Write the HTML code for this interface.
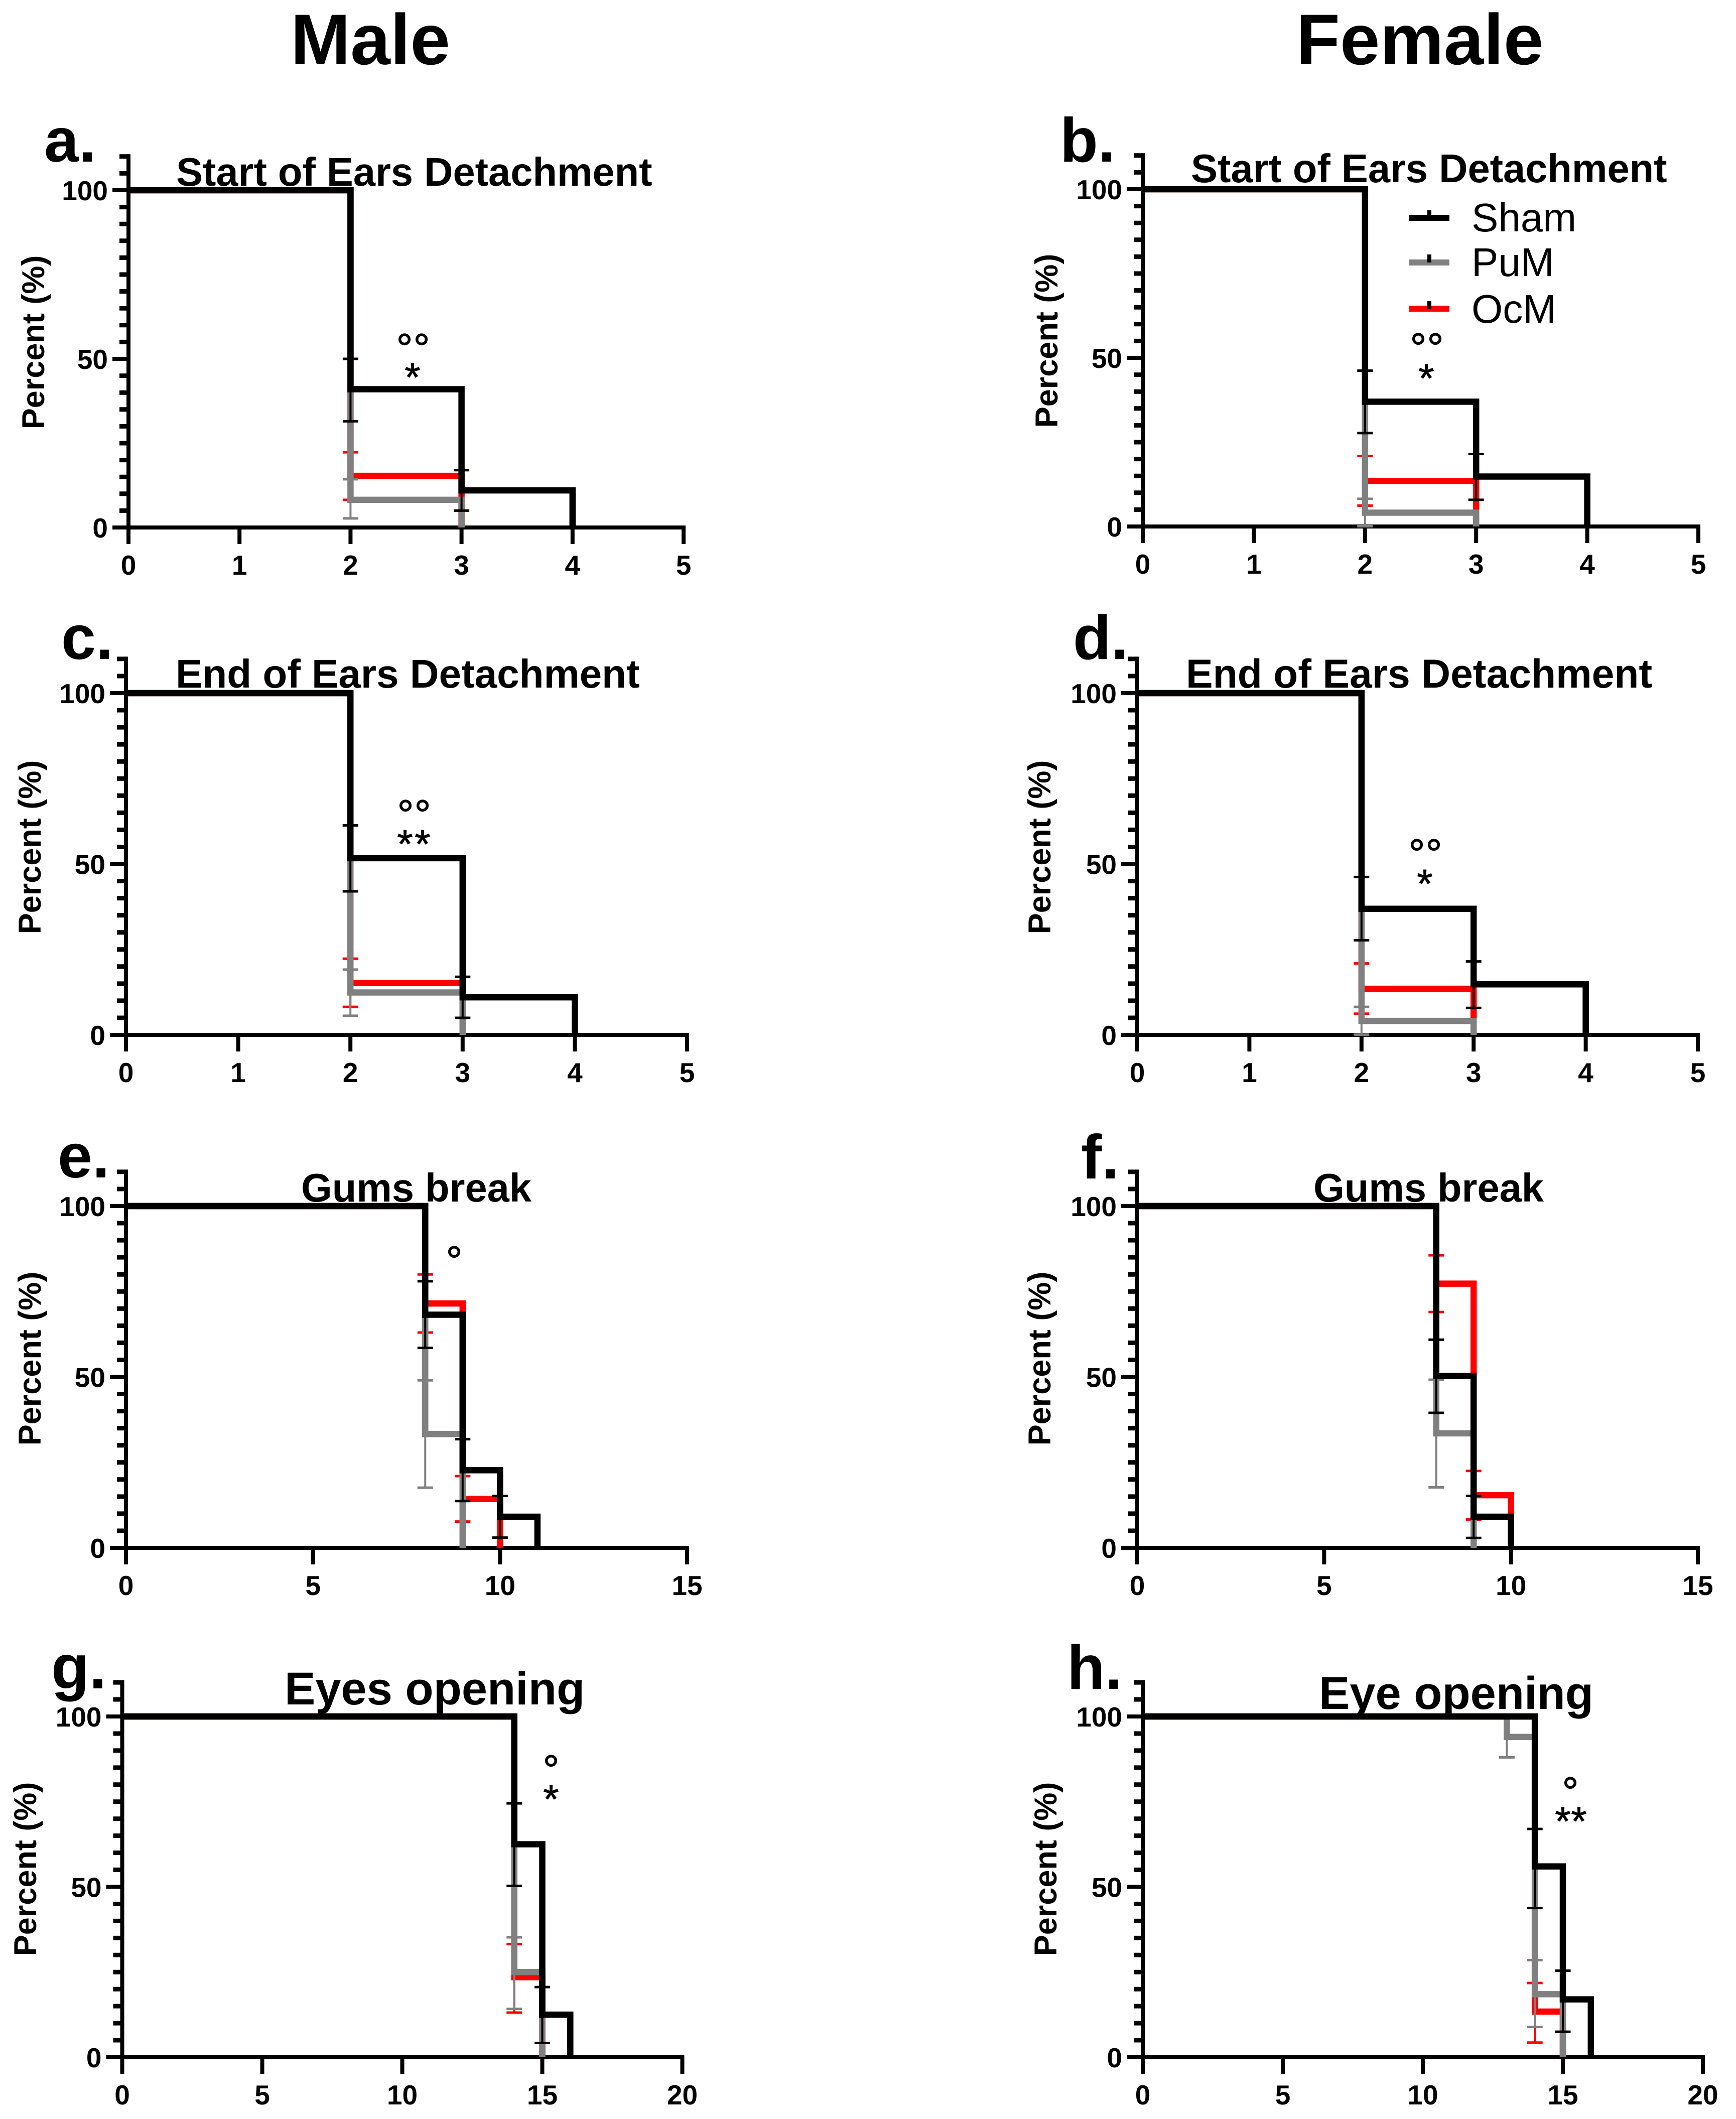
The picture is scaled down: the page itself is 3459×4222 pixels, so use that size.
<!DOCTYPE html>
<html lang="en">
<head>
<meta charset="utf-8">
<title>Developmental milestones: Male and Female</title>
<style>
html,body{margin:0;padding:0;background:#fff;}
svg{display:block;}
text{font-family:"Liberation Sans",Arial,sans-serif;fill:#000;}
.b{font-weight:bold;}
.head{font-size:143px;font-weight:bold;text-anchor:middle;}
.letter{font-size:124px;font-weight:bold;}
.title{font-size:79.4px;font-weight:bold;}
.title2{font-size:92px;font-weight:bold;}
.ylab{font-size:63px;font-weight:bold;text-anchor:middle;}
.deg{font-size:82px;text-anchor:middle;stroke:#000;stroke-width:1.2px;}
.star{font-size:80px;text-anchor:middle;stroke:#000;stroke-width:1px;}
.leg{font-size:80px;}
.tick{font-size:55px;font-weight:bold;}
</style>
</head>
<body>
<svg id="fig" width="3459" height="4222" viewBox="0 0 3459 4222">
  <rect width="3459" height="4222" fill="#fff"/>

  <text class="head" x="738" y="128">Male</text>
  <text class="head" x="2829" y="128">Female</text>

  <text class="letter" x="88" y="322">a.</text>
  <text class="letter" x="2112" y="322">b.</text>
  <text class="letter" x="122" y="1313">c.</text>
  <text class="letter" x="2138" y="1313">d.</text>
  <text class="letter" x="115" y="2346">e.</text>
  <text class="letter" x="2154" y="2348">f.</text>
  <text class="letter" x="102" y="3364">g.</text>
  <text class="letter" x="2126" y="3365">h.</text>

  <text class="title" x="351" y="370">Start of Ears Detachment</text>
  <text class="title" x="2373" y="363">Start of Ears Detachment</text>
  <text class="title" x="350" y="1370" style="font-size:80px">End of Ears Detachment</text>
  <text class="title" x="2363" y="1370" style="font-size:80.4px">End of Ears Detachment</text>
  <text class="title" x="600" y="2394">Gums break</text>
  <text class="title" x="2617" y="2394">Gums break</text>
  <text class="title2" x="567" y="3396">Eyes opening</text>
  <text class="title2" x="2628" y="3405">Eye opening</text>

  <text class="ylab" transform="translate(88 682) rotate(-90)">Percent (%)</text>
  <text class="ylab" transform="translate(2107 679) rotate(-90)">Percent (%)</text>
  <text class="ylab" transform="translate(81 1688) rotate(-90)">Percent (%)</text>
  <text class="ylab" transform="translate(2093 1688) rotate(-90)">Percent (%)</text>
  <text class="ylab" transform="translate(81 2707) rotate(-90)">Percent (%)</text>
  <text class="ylab" transform="translate(2093 2707) rotate(-90)">Percent (%)</text>
  <text class="ylab" transform="translate(72 3724) rotate(-90)">Percent (%)</text>
  <text class="ylab" transform="translate(2105 3724) rotate(-90)">Percent (%)</text>

  <!-- significance marks -->
  <text class="deg" x="806" y="722">°</text>
  <text class="deg" x="840" y="722">°</text>
  <text class="star" x="822" y="779">*</text>

  <text class="deg" x="2826" y="721">°</text>
  <text class="deg" x="2860" y="721">°</text>
  <text class="star" x="2842" y="781">*</text>

  <text class="deg" x="808" y="1651">°</text>
  <text class="deg" x="842" y="1651">°</text>
  <text class="star" x="807" y="1709">*</text>
  <text class="star" x="842" y="1709">*</text>

  <text class="deg" x="2823" y="1729">°</text>
  <text class="deg" x="2857" y="1729">°</text>
  <text class="star" x="2839" y="1788">*</text>

  <text class="deg" x="905" y="2540">°</text>

  <text class="deg" x="1098" y="3554">°</text>
  <text class="star" x="1098" y="3612">*</text>

  <text class="deg" x="3129" y="3598">°</text>
  <text class="star" x="3114" y="3656">*</text>
  <text class="star" x="3146" y="3656">*</text>

  <g id="plots"></g>

  <!-- legend -->
  <g>
    <g>
      <rect x="2808" y="428" width="80" height="12" fill="#000"/>
      <rect x="2844" y="419" width="8" height="15" fill="#000"/>
      <text class="leg" x="2932" y="461">Sham</text>
    </g>
    <g>
      <rect x="2808" y="517" width="80" height="12" fill="#808080"/>
      <rect x="2844" y="507" width="8" height="16" fill="#000"/>
      <text class="leg" x="2932" y="550">PuM</text>
    </g>
    <g>
      <rect x="2808" y="609" width="80" height="12" fill="#ff0000"/>
      <rect x="2844" y="600" width="8" height="16" fill="#000"/>
      <text class="leg" x="2932" y="643">OcM</text>
    </g>
  </g>
</svg>

<script>
// ---- tick values ----
const xTicksEars = [0, 1, 2, 3, 4, 5];
const xTicksGums = [0, 5, 10, 15];
const xTicksEyes = [0, 5, 10, 15, 20];
const yTicksMajor = [0, 50, 100];
const yTicksMinor = [5, 10, 15, 20, 25, 30, 35, 40, 45, 55, 60, 65, 70, 75, 80, 85, 90, 95, 105, 110];

// ---- panel a: start of ears detachment, male ----
const aShamTimes = [0, 2, 3, 4];
const aShamPercent = [100, 41, 11, 0];
const aShamUpper = [50, 17];
const aShamLower = [31.5, 5];
const aPumTimes = [0, 2, 3];
const aPumPercent = [100, 8.2, 0];
const aPumUpper = [14.3];
const aPumLower = [2.7];
const aOcmTimes = [0, 2, 3];
const aOcmPercent = [100, 15.3, 0];
const aOcmUpper = [22.3];
const aOcmLower = [8.2];

// ---- panel b: start of ears detachment, female ----
const bShamTimes = [0, 2, 3, 4];
const bShamPercent = [100, 37, 14.8, 0];
const bShamUpper = [46.2, 21.5];
const bShamLower = [27.7, 7.9];
const bPumTimes = [0, 2, 3];
const bPumPercent = [100, 4.1, 0];
const bPumUpper = [8.2];
const bPumLower = [0.1];
const bOcmTimes = [0, 2, 3];
const bOcmPercent = [100, 13.5, 0];
const bOcmUpper = [20.9];
const bOcmLower = [6.2];

// ---- panel c: end of ears detachment, male ----
const cShamTimes = [0, 2, 3, 4];
const cShamPercent = [100, 51.7, 11, 0];
const cShamUpper = [61.3, 17];
const cShamLower = [42, 5];
const cPumTimes = [0, 2, 3];
const cPumPercent = [100, 12.4, 0];
const cPumUpper = [19.1];
const cPumLower = [5.6];
const cOcmTimes = [0, 2, 3];
const cOcmPercent = [100, 15.2, 0];
const cOcmUpper = [22.3];
const cOcmLower = [8.2];

// ---- panel d: end of ears detachment, female ----
const dShamTimes = [0, 2, 3, 4];
const dShamPercent = [100, 36.9, 14.8, 0];
const dShamUpper = [46.2, 21.5];
const dShamLower = [27.7, 7.9];
const dPumTimes = [0, 2, 3];
const dPumPercent = [100, 4.1, 0];
const dPumUpper = [8.2];
const dPumLower = [0.1];
const dOcmTimes = [0, 2, 3];
const dOcmPercent = [100, 13.5, 0];
const dOcmUpper = [20.9];
const dOcmLower = [6.2];

// ---- panel e: gums break, male ----
const eShamTimes = [0, 8, 9, 10, 11];
const eShamPercent = [100, 68.2, 22.7, 9.1, 0];
const eShamUpper = [78, 31.8, 15.2];
const eShamLower = [58.5, 13.7, 3];
const ePumTimes = [0, 8, 9];
const ePumPercent = [100, 33.3, 0];
const ePumUpper = [49];
const ePumLower = [17.6];
const eOcmTimes = [0, 8, 9, 10];
const eOcmPercent = [100, 71.5, 14.3, 0];
const eOcmUpper = [80, 21];
const eOcmLower = [63, 7.7];

// ---- panel f: gums break, female ----
const fShamTimes = [0, 8, 9, 10];
const fShamPercent = [100, 50.3, 9.1, 0];
const fShamUpper = [60.9, 15.2];
const fShamLower = [39.5, 2.9];
const fPumTimes = [0, 8, 9];
const fPumPercent = [100, 33.5, 0];
const fPumUpper = [49.2];
const fPumLower = [17.7];
const fOcmTimes = [0, 8, 9, 10];
const fOcmPercent = [100, 77.3, 15.4, 0];
const fOcmUpper = [85.6, 22.5];
const fOcmLower = [69, 8.3];

// ---- panel g: eyes opening, male ----
const gShamTimes = [0, 14, 15, 16];
const gShamPercent = [100, 62.5, 12.5, 0];
const gShamUpper = [74.5, 20.6];
const gShamLower = [50.3, 4.2];
const gPumTimes = [0, 14, 15];
const gPumPercent = [100, 25, 0];
const gPumUpper = [35.2];
const gPumLower = [14.2];
const gOcmTimes = [0, 14, 15];
const gOcmPercent = [100, 23.5, 0];
const gOcmUpper = [33.2];
const gOcmLower = [13.1];

// ---- panel h: eye opening, female ----
const hShamTimes = [0, 14, 15, 16];
const hShamPercent = [100, 56, 17, 0];
const hShamUpper = [67, 25.4];
const hShamLower = [43.8, 7.5];
const hPumTimes = [0, 13, 14, 15];
const hPumPercent = [100, 94, 18.5, 0];
const hPumUpper = [100, 28.5];
const hPumLower = [88, 8.9];
const hOcmTimes = [0, 14, 15];
const hOcmPercent = [100, 13.4, 0];
const hOcmUpper = [21.8];
const hOcmLower = [4.3];

// ---- panel composition and placement on the page ----
function seriesSet(sham, pum, ocm) {
  return [
    { name: 'ocm', color: '#ff0000', d: ocm },
    { name: 'pum', color: '#808080', d: pum },
    { name: 'sham', color: '#000000', d: sham }
  ];
}
const panels = [
  { id: 'a', xMax: 5, xTicks: xTicksEars, box: [256, 1362, 379, 1051],
    series: seriesSet([aShamTimes, aShamPercent, aShamUpper, aShamLower], [aPumTimes, aPumPercent, aPumUpper, aPumLower], [aOcmTimes, aOcmPercent, aOcmUpper, aOcmLower]) },
  { id: 'b', xMax: 5, xTicks: xTicksEars, box: [2277, 3384, 377, 1049],
    series: seriesSet([bShamTimes, bShamPercent, bShamUpper, bShamLower], [bPumTimes, bPumPercent, bPumUpper, bPumLower], [bOcmTimes, bOcmPercent, bOcmUpper, bOcmLower]) },
  { id: 'c', xMax: 5, xTicks: xTicksEars, box: [251, 1369, 1381, 2062],
    series: seriesSet([cShamTimes, cShamPercent, cShamUpper, cShamLower], [cPumTimes, cPumPercent, cPumUpper, cPumLower], [cOcmTimes, cOcmPercent, cOcmUpper, cOcmLower]) },
  { id: 'd', xMax: 5, xTicks: xTicksEars, box: [2266, 3383, 1381, 2062],
    series: seriesSet([dShamTimes, dShamPercent, dShamUpper, dShamLower], [dPumTimes, dPumPercent, dPumUpper, dPumLower], [dOcmTimes, dOcmPercent, dOcmUpper, dOcmLower]) },
  { id: 'e', xMax: 15, xTicks: xTicksGums, box: [251, 1369, 2403, 3084],
    series: seriesSet([eShamTimes, eShamPercent, eShamUpper, eShamLower], [ePumTimes, ePumPercent, ePumUpper, ePumLower], [eOcmTimes, eOcmPercent, eOcmUpper, eOcmLower]) },
  { id: 'f', xMax: 15, xTicks: xTicksGums, box: [2266, 3383, 2403, 3084],
    series: seriesSet([fShamTimes, fShamPercent, fShamUpper, fShamLower], [fPumTimes, fPumPercent, fPumUpper, fPumLower], [fOcmTimes, fOcmPercent, fOcmUpper, fOcmLower]) },
  { id: 'g', xMax: 20, xTicks: xTicksEyes, box: [243.5, 1359.5, 3420, 4099],
    series: seriesSet([gShamTimes, gShamPercent, gShamUpper, gShamLower], [gPumTimes, gPumPercent, gPumUpper, gPumLower], [gOcmTimes, gOcmPercent, gOcmUpper, gOcmLower]) },
  { id: 'h', xMax: 20, xTicks: xTicksEyes, box: [2277, 3393, 3420, 4099],
    series: seriesSet([hShamTimes, hShamPercent, hShamUpper, hShamLower], [hPumTimes, hPumPercent, hPumUpper, hPumLower], [hOcmTimes, hOcmPercent, hOcmUpper, hOcmLower]) }
];

const SVG_NS = document.getElementById('fig').namespaceURI;
const plots = document.getElementById('plots');

function make(tag, parent, attrs) {
  const node = document.createElementNS(SVG_NS, tag);
  for (const k in attrs) node.setAttribute(k, attrs[k]);
  parent.appendChild(node);
  return node;
}

function drawAxes(p, g, X, Y) {
  const left = X(0);
  const base = Y(0);
  let el = make('line', g, { x1: left, x2: left, y1: Y(110) - 4.5, y2: base + 33, stroke: '#000', 'stroke-width': 8 });
  
  

  el = make('line', g, { x1: left - 32, x2: X(p.xMax) + 4, y1: base, y2: base, stroke: '#000', 'stroke-width': 8 });
  
  

  p.xTicks.forEach(function (t) {
    const tick = make('line', g, { x1: X(t), x2: X(t), y1: base, y2: base + 33, stroke: '#000', 'stroke-width': 8 });
    
    

    const label = make('text', g, { x: X(t), y: base + 94, 'text-anchor': 'middle', class: 'tick' });
    label.textContent = String(t);
    
    
  });

  yTicksMinor.forEach(function (t) {
    const tick = make('line', g, { x1: left - 18, x2: left, y1: Y(t), y2: Y(t), stroke: '#000', 'stroke-width': 9 });
    
    
  });

  yTicksMajor.forEach(function (t) {
    const tick = make('line', g, { x1: left - 32, x2: left, y1: Y(t), y2: Y(t), stroke: '#000', 'stroke-width': 8 });
    
    

    const label = make('text', g, { x: left - 41, y: Y(t) + 20, 'text-anchor': 'end', class: 'tick' });
    label.textContent = String(t);
    
    
  });
}

function drawSeries(s, g, X, Y) {
  const times = s.d[0], percent = s.d[1], upper = s.d[2], lower = s.d[3];

  // Kaplan-Meier style step path: hold the level, then drop at the next time
  let d = 'M' + X(times[0]) + ' ' + Y(percent[0]);
  for (let i = 1; i < times.length; i++) {
    d += ' L' + X(times[i]) + ' ' + Y(percent[i - 1]) + ' L' + X(times[i]) + ' ' + Y(percent[i]);
  }
  const curve = make('path', g, { d: d, fill: 'none', stroke: s.color, 'stroke-width': 12.5, 'stroke-linejoin': 'miter' });
  
  

  upper.forEach(function (hi, i) {
    const t = times[i + 1];
    const lo = lower[i];
    const stem = make('line', g, { x1: X(t), x2: X(t), y1: Y(hi), y2: Y(lo), stroke: s.color, 'stroke-width': 4 });
    
    

    const capHi = make('line', g, { x1: X(t) - 15.5, x2: X(t) + 15.5, y1: Y(hi), y2: Y(hi), stroke: s.color, 'stroke-width': 5 });
    
    

    const capLo = make('line', g, { x1: X(t) - 15.5, x2: X(t) + 15.5, y1: Y(lo), y2: Y(lo), stroke: s.color, 'stroke-width': 5 });
    
    
  });
}

panels.forEach(function (p) {
  const left = p.box[0], right = p.box[1], top = p.box[2], bottom = p.box[3];
  const X = function (v) { return left + (right - left) * v / p.xMax; };
  const Y = function (v) { return bottom - (bottom - top) * v / 100; };
  const g = make('g', plots, {});
  
  
  drawAxes(p, g, X, Y);
  p.series.forEach(function (s) { drawSeries(s, g, X, Y); });
});
</script>
</body>
</html>
